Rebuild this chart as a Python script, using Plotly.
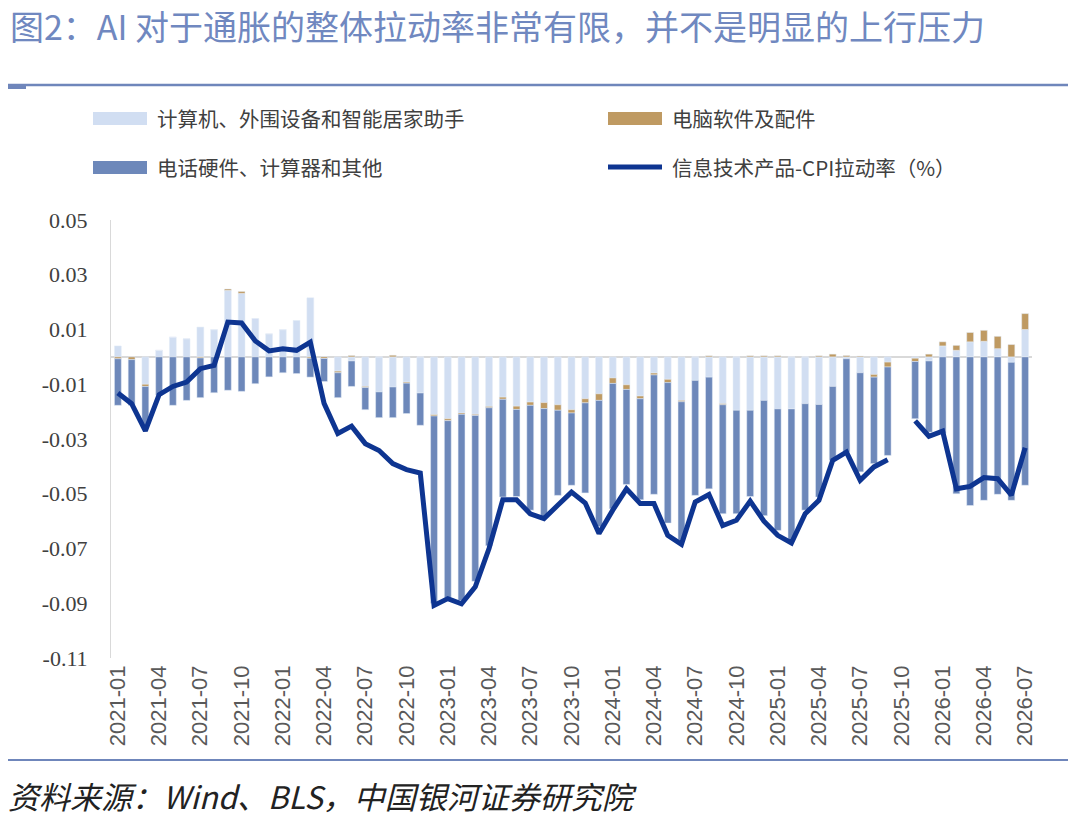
import plotly.graph_objects as go

# monthly categories 2021-01 .. 2026-07
months = [f"{y}-{m:02d}" for y in range(2021, 2027) for m in range(1, 13)][:67]

# 计算机、外围设备和智能居家助手
computers = [
    0.0040, 0.0000, -0.0100, 0.0024, 0.0072, 0.0066, 0.0109, 0.0099, 0.0243, 0.0232, 0.0140, 0.0084,
    0.0099, 0.0133, 0.0216, 0.0000, -0.0052, -0.0015, -0.0108, -0.0128, -0.0110, -0.0092, -0.0132, -0.0211,
    -0.0226, -0.0205, -0.0210, -0.0181, -0.0147, -0.0180, -0.0165, -0.0167, -0.0175, -0.0193, -0.0153, -0.0135,
    -0.0077, -0.0102, -0.0143, -0.0059, -0.0082, -0.0159, -0.0086, -0.0074, -0.0171, -0.0195, -0.0195, -0.0159,
    -0.0190, -0.0190, -0.0171, -0.0174, -0.0108, -0.0007, -0.0058, -0.0064, -0.0019, None, -0.0005, -0.0015,
    0.0040, 0.0024, 0.0055, 0.0057, 0.0030, -0.0020, 0.0100,
]

# 电脑软件及配件
software = [
    -0.0007, -0.0010, -0.0008, 0.0000, 0.0000, 0.0000, -0.0004, 0.0000, 0.0005, 0.0007, 0.0000, 0.0000,
    0.0000, 0.0000, -0.0005, -0.0006, -0.0006, 0.0005, -0.0004, 0.0000, 0.0006, -0.0004, 0.0000, -0.0005,
    -0.0007, -0.0005, -0.0004, -0.0005, -0.0008, -0.0012, -0.0012, -0.0022, -0.0020, -0.0012, -0.0015, -0.0024,
    -0.0020, -0.0017, -0.0010, -0.0007, -0.0012, -0.0005, 0.0000, 0.0004, -0.0004, 0.0000, 0.0004, 0.0004,
    0.0004, 0.0000, 0.0000, 0.0004, 0.0010, 0.0005, 0.0003, -0.0010, -0.0018, None, -0.0012, 0.0010,
    0.0015, 0.0018, 0.0034, 0.0040, 0.0045, 0.0045, 0.0058,
]

# 电话硬件、计算器和其他
phones = [
    -0.0170, -0.0167, -0.0152, -0.0140, -0.0177, -0.0159, -0.0145, -0.0131, -0.0122, -0.0126, -0.0098, -0.0073,
    -0.0058, -0.0061, -0.0069, -0.0084, -0.0091, -0.0093, -0.0081, -0.0094, -0.0112, -0.0111, -0.0118, -0.0684,
    -0.0647, -0.0680, -0.0606, -0.0504, -0.0357, -0.0318, -0.0383, -0.0396, -0.0311, -0.0264, -0.0329, -0.0461,
    -0.0458, -0.0347, -0.0369, -0.0436, -0.0513, -0.0506, -0.0420, -0.0408, -0.0398, -0.0378, -0.0315, -0.0421,
    -0.0444, -0.0480, -0.0389, -0.0338, -0.0270, -0.0341, -0.0362, -0.0316, -0.0323, None, -0.0209, -0.0260,
    -0.0280, -0.0500, -0.0543, -0.0524, -0.0502, -0.0504, -0.0469,
]

# 信息技术产品-CPI拉动率（%）
it_cpi = [
    -0.0132, -0.0171, -0.0270, -0.0138, -0.0108, -0.0092, -0.0043, -0.0031, 0.0127, 0.0124, 0.0058, 0.0022,
    0.0030, 0.0024, 0.0054, -0.0170, -0.0280, -0.0253, -0.0317, -0.0342, -0.0390, -0.0412, -0.0424, -0.0908,
    -0.0883, -0.0902, -0.0840, -0.0700, -0.0522, -0.0522, -0.0573, -0.0591, -0.0542, -0.0494, -0.0534, -0.0645,
    -0.0560, -0.0482, -0.0536, -0.0536, -0.0652, -0.0685, -0.0530, -0.0503, -0.0616, -0.0597, -0.0527, -0.0600,
    -0.0652, -0.0680, -0.0573, -0.0524, -0.0378, -0.0348, -0.0451, -0.0402, -0.0376, None, -0.0234, -0.0290,
    -0.0271, -0.0482, -0.0473, -0.0441, -0.0445, -0.0505, -0.0332,
]

y_ticks = [0.05, 0.03, 0.01, -0.01, -0.03, -0.05, -0.07, -0.09, -0.11]
y_tick_labels = ["0.05", "0.03", "0.01", "-0.01", "-0.03", "-0.05", "-0.07", "-0.09", "-0.11"]
x_ticks = months[::3]

names = ["计算机、外围设备和智能居家助手", "电脑软件及配件", "电话硬件、计算器和其他", "信息技术产品-CPI拉动率（%）"]
title = "图2：AI 对于通胀的整体拉动率非常有限，并不是明显的上行压力"
source = "资料来源：Wind、BLS，中国银河证券研究院"

c_light = "#d1def2"
c_tan = "#bf9a62"
c_mid = "#6d88ba"
c_line = "#0e3591"
c_rule = "#6f86bb"
cjk = "Noto Sans CJK SC"

# the page body adds an 8px margin, so the figure is 8px smaller than the window
OFF = 8
W, H = 1080 - OFF, 818 - OFF
ML, MR, MT, MB = 103, 48, 212, 160
PW = W - ML - MR
PH = H - MT - MB


# screen pixel -> paper coords
def px(x):
    return (x - OFF - ML) / PW


def py(y):
    return (H - MB - (y - OFF)) / PH


fig = go.Figure()
fig.add_trace(go.Bar(x=months, y=computers, name=names[0], marker_color=c_light))
fig.add_trace(go.Bar(x=months, y=software, name=names[1], marker_color=c_tan))
fig.add_trace(go.Bar(x=months, y=phones, name=names[2], marker_color=c_mid))
fig.add_trace(go.Scatter(x=months, y=it_cpi, name=names[3], mode="lines",
                         line=dict(color=c_line, width=5), connectgaps=False))

shapes = [
    dict(type="line", xref="paper", yref="paper", x0=px(5), x1=px(1068), y0=py(85), y1=py(85),
         line=dict(color=c_rule, width=2.5)),
    dict(type="rect", xref="paper", yref="paper", x0=px(5), x1=px(26), y0=py(84), y1=py(89),
         fillcolor=c_rule, line_width=0),
    dict(type="line", xref="paper", yref="paper", x0=px(5), x1=px(1068), y0=py(760), y1=py(760),
         line=dict(color=c_rule, width=2)),
    # legend swatches
    dict(type="rect", xref="paper", yref="paper", x0=px(93), x1=px(147), y0=py(125), y1=py(112),
         fillcolor=c_light, line_width=0),
    dict(type="rect", xref="paper", yref="paper", x0=px(608), x1=px(662), y0=py(125), y1=py(112),
         fillcolor=c_tan, line_width=0),
    dict(type="rect", xref="paper", yref="paper", x0=px(93), x1=px(147), y0=py(174), y1=py(161),
         fillcolor=c_mid, line_width=0),
    dict(type="line", xref="paper", yref="paper", x0=px(608), x1=px(662), y0=py(167), y1=py(167),
         line=dict(color=c_line, width=5)),
]

annotations = [
    dict(text=title, x=px(8), y=py(25), xanchor="left", yanchor="middle",
         font=dict(family=cjk, size=34, color="#7088c0")),
    dict(text=source, x=px(6), y=py(795), xanchor="left", yanchor="middle",
         font=dict(family=cjk, size=31, color="#222222", style="italic")),
    dict(text=names[0], x=px(155), y=py(118), xanchor="left", yanchor="middle",
         font=dict(family=cjk, size=20.5, color="#404040")),
    dict(text=names[1], x=px(670), y=py(118), xanchor="left", yanchor="middle",
         font=dict(family=cjk, size=20.5, color="#404040")),
    dict(text=names[2], x=px(155), y=py(167), xanchor="left", yanchor="middle",
         font=dict(family=cjk, size=20.5, color="#404040")),
    dict(text=names[3], x=px(670), y=py(167), xanchor="left", yanchor="middle",
         font=dict(family=cjk, size=20.5, color="#404040")),
]
for a in annotations:
    a.update(xref="paper", yref="paper", showarrow=False)

fig.update_layout(
    width=W, height=H, autosize=False,
    margin=dict(l=ML, r=MR, t=MT, b=MB, pad=0),
    barmode="relative", bargap=0.5,
    showlegend=False,
    plot_bgcolor="white", paper_bgcolor="white",
    shapes=shapes, annotations=annotations,
    xaxis=dict(type="category", range=[-0.5, 66.5], tickvals=x_ticks, ticktext=x_ticks,
               tickangle=-90, showgrid=False, showline=False, zeroline=False, ticks="",
               ticklabelstandoff=2,
               tickfont=dict(family="Liberation Sans", size=22, color="#595959")),
    yaxis=dict(range=[-0.11, 0.05], tickvals=y_ticks, ticktext=y_tick_labels,
               showgrid=False, showline=True, linecolor="#d9d9d9", linewidth=1,
               zeroline=True, zerolinecolor="#d9d9d9", zerolinewidth=1.5, ticks="",
               ticklabelstandoff=18,
               tickfont=dict(family="Liberation Serif", size=22, color="#404040")),
)

fig.write_html("out.html")
